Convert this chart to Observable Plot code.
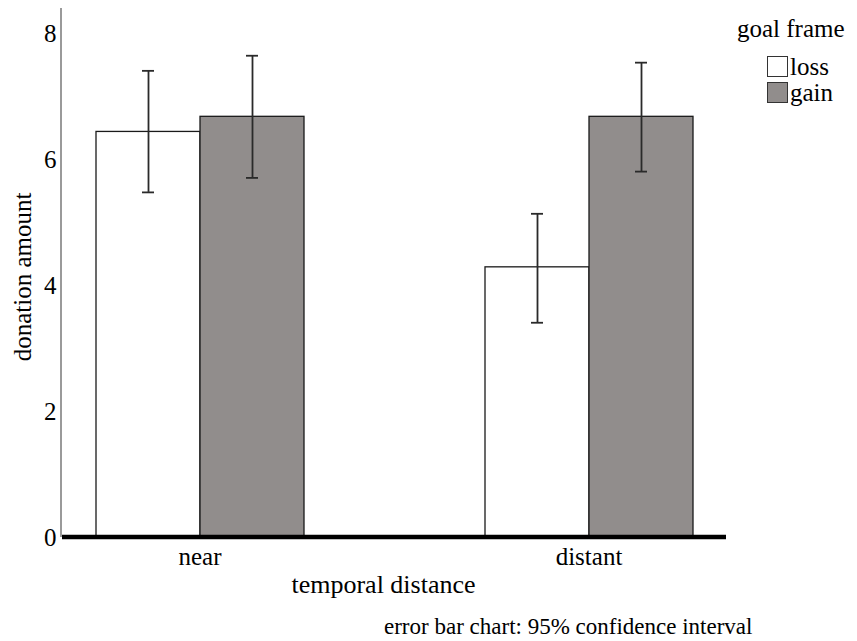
<!DOCTYPE html>
<html>
<head>
<meta charset="utf-8">
<script src="https://cdn.jsdelivr.net/npm/d3@7"></script>
<script src="https://cdn.jsdelivr.net/npm/@observablehq/plot@0.6"></script>
<style>
  body { margin: 0; background: #fff; }
  #wrap { position: relative; width: 857px; height: 641px; font-family: "Liberation Serif", "Times New Roman", serif; color: #000; }
  #legend { position: absolute; left: 737px; top: 15px; font-size: 25px; line-height: 1.1; }
  #legend .title { margin-bottom: 11px; }
  #legend .row { display: flex; align-items: center; height: 26px; margin-left: 30px; }
  #legend .sw { width: 21px; height: 21px; border: 1.5px solid #333; box-sizing: border-box; margin-right: 2px; }
  #caption { position: absolute; left: 384px; top: 615px; font-size: 23px; line-height: 1; white-space: nowrap; }
</style>
</head>
<body>
<div id="wrap"></div>
<script>
// ---- data ----
const distances = ["near", "distant"];
const frames = ["loss", "gain"];
const frameColors = ["#ffffff", "#918d8c"];
// order: near-loss, near-gain, distant-loss, distant-gain
const meanDonation = [6.44, 6.68, 4.29, 6.68];
const ciLow = [5.48, 5.71, 3.41, 5.81];
const ciHigh = [7.41, 7.65, 5.14, 7.54];
const yTicks = [0, 2, 4, 6, 8];
const xTitle = "temporal distance";
const yTitle = "donation amount";
const legendTitle = "goal frame";
const captionText = "error bar chart: 95% confidence interval";

const rows = [];
distances.forEach((d, i) => frames.forEach((f, j) => {
  const k = i * frames.length + j;
  rows.push({distance: d, frame: f, mean: meanDonation[k], lo: ciLow[k], hi: ciHigh[k]});
}));

const chart = Plot.plot({
  width: 857,
  height: 641,
  marginLeft: 62,
  marginRight: 131,
  marginTop: 8,
  marginBottom: 104,
  style: {fontFamily: "'Liberation Serif', 'Times New Roman', serif", fontSize: "25px", color: "#000", background: "#fff", overflow: "visible"},
  fx: {domain: distances, paddingInner: 0.297, paddingOuter: 0, label: xTitle},
  x: {domain: frames, padding: 0, insetLeft: 32, insetRight: 32, axis: null},
  y: {domain: [0, 8.4], label: yTitle, labelArrow: "none"},
  color: {domain: frames, range: frameColors},
  marks: [
    Plot.barY(rows, {fx: "distance", x: "frame", y: "mean", fill: "frame", stroke: "#1a1a1a", strokeWidth: 1.3}),
    Plot.ruleX(rows, {fx: "distance", x: "frame", y1: "lo", y2: "hi", stroke: "#2a2a2a", strokeWidth: 1.8}),
    Plot.tickY(rows, {fx: "distance", x: "frame", y: "lo", stroke: "#2a2a2a", strokeWidth: 1.8, insetLeft: 46, insetRight: 46}),
    Plot.tickY(rows, {fx: "distance", x: "frame", y: "hi", stroke: "#2a2a2a", strokeWidth: 1.8, insetLeft: 46, insetRight: 46}),
    Plot.axisY({ticks: yTicks, tickSize: 0, tickPadding: 7, fontSize: 25, label: yTitle, labelArrow: "none", labelAnchor: "center", labelOffset: 50}),
    Plot.axisFx({anchor: "bottom", tickSize: 0, tickPadding: 10, fontSize: 25, label: xTitle, labelArrow: "none", labelAnchor: "center", labelOffset: 54})
  ]
});

// axis titles: sized and nudged (via a wrapper group) to sit where the reference has them
function nudge(selector, dx, dy, size) {
  chart.querySelectorAll(selector).forEach((g) => {
    const w = document.createElementNS("http://www.w3.org/2000/svg", "g");
    w.setAttribute("transform", `translate(${dx},${dy})`);
    g.parentNode.insertBefore(w, g);
    w.appendChild(g);
    g.querySelectorAll("text").forEach((t) => t.style.fontSize = size);
  });
}
nudge("g[aria-label='y-axis label']", 0, 4, "25px");
nudge("g[aria-label='fx-axis label']", -11, 1, "26px");

// axis line and thick baseline, positioned through the chart's own scales
const ys = chart.scale("y");
const fxs = chart.scale("fx");
const svg = d3.select(chart);
const yTop = ys.apply(ys.domain[1]);
const y0 = ys.apply(0);
const xLeft = fxs.range[0];
const xRight = fxs.range[1];
svg.append("line")
  .attr("x1", xLeft - 1).attr("x2", xLeft - 1).attr("y1", yTop).attr("y2", y0)
  .attr("stroke", "#9a9a9a").attr("stroke-width", 2);
svg.append("line")
  .attr("x1", xLeft).attr("x2", xRight).attr("y1", y0).attr("y2", y0)
  .attr("stroke", "#000").attr("stroke-width", 4.5);

const wrap = document.getElementById("wrap");
wrap.appendChild(chart);

// legend
const legend = document.createElement("div");
legend.id = "legend";
legend.innerHTML = `<div class="title">${legendTitle}</div>` +
  frames.map((f, i) => `<div class="row"><div class="sw" style="background:${frameColors[i]}"></div><span>${f}</span></div>`).join("");
wrap.appendChild(legend);

// caption
const cap = document.createElement("div");
cap.id = "caption";
cap.textContent = captionText;
wrap.appendChild(cap);
</script>
</body>
</html>
